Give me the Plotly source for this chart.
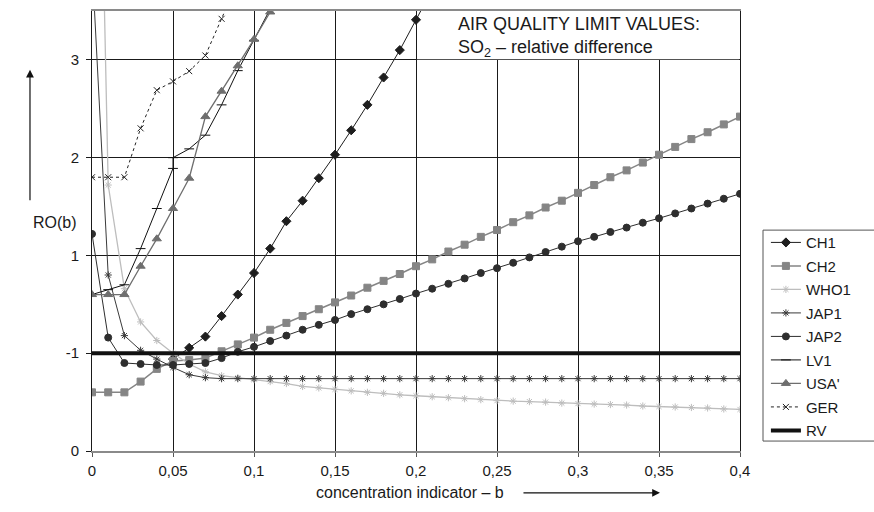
import plotly.graph_objects as go

# ---------------- data ----------------
x_all = [0.00, 0.01, 0.02, 0.03, 0.04, 0.05, 0.06, 0.07, 0.08, 0.09,
         0.10, 0.11, 0.12, 0.13, 0.14, 0.15, 0.16, 0.17, 0.18, 0.19,
         0.20, 0.21, 0.22, 0.23, 0.24, 0.25, 0.26, 0.27, 0.28, 0.29,
         0.30, 0.31, 0.32, 0.33, 0.34, 0.35, 0.36, 0.37, 0.38, 0.39, 0.40]

ch1_x = [0.05, 0.06, 0.07, 0.08, 0.09, 0.10, 0.11, 0.12, 0.13, 0.14,
         0.15, 0.16, 0.17, 0.18, 0.19, 0.20, 0.21]
ch1_y = [-0.06, 0.055, 0.17, 0.38, 0.60, 0.82, 1.07, 1.35, 1.56, 1.79,
         2.03, 2.28, 2.54, 2.82, 3.10, 3.41, 3.72]

ch2_y = [-0.40, -0.40, -0.40, -0.29, -0.16, -0.08, -0.07, -0.05, 0.02, 0.09,
         0.16, 0.24, 0.31, 0.38, 0.45, 0.52, 0.59, 0.67, 0.74, 0.81,
         0.89, 0.96, 1.04, 1.11, 1.19, 1.26, 1.34, 1.41, 1.49, 1.56,
         1.64, 1.72, 1.80, 1.87, 1.95, 2.03, 2.11, 2.19, 2.26, 2.34, 2.42]

who1_y = [9.5, 1.72, 0.66, 0.32, 0.13, 0.0, -0.11, -0.19, -0.23, -0.25,
          -0.27, -0.29, -0.31, -0.34, -0.355, -0.37, -0.385, -0.40, -0.41, -0.425,
          -0.435, -0.445, -0.455, -0.465, -0.475, -0.485, -0.49, -0.495, -0.50, -0.51,
          -0.515, -0.52, -0.525, -0.53, -0.54, -0.545, -0.55, -0.555, -0.56, -0.57, -0.575]

jap1_y = [4.0, 0.80, 0.18, 0.03, -0.06, -0.145, -0.22, -0.25, -0.26, -0.26,
          -0.26, -0.26, -0.26, -0.26, -0.26, -0.26, -0.26, -0.26, -0.26, -0.26,
          -0.26, -0.26, -0.26, -0.26, -0.26, -0.26, -0.26, -0.26, -0.26, -0.26,
          -0.26, -0.26, -0.26, -0.26, -0.26, -0.26, -0.26, -0.26, -0.26, -0.26, -0.26]

jap2_y = [1.22, 0.16, -0.10, -0.11, -0.12, -0.12, -0.11, -0.10, -0.05, 0.015,
          0.065, 0.125, 0.18, 0.24, 0.29, 0.34, 0.40, 0.45, 0.50, 0.555,
          0.61, 0.66, 0.71, 0.765, 0.82, 0.87, 0.925, 0.98, 1.035, 1.09,
          1.145, 1.19, 1.24, 1.285, 1.335, 1.38, 1.43, 1.48, 1.53, 1.58, 1.63]

lv1_x = [0.00, 0.01, 0.02, 0.03, 0.04, 0.05, 0.05, 0.06, 0.07, 0.08, 0.09, 0.10, 0.11]
lv1_y = [0.60, 0.65, 0.70, 1.07, 1.48, 1.89, 2.00, 2.09, 2.23, 2.54, 2.89, 3.20, 3.52]

usa_x = [0.00, 0.01, 0.02, 0.03, 0.04, 0.05, 0.06, 0.07, 0.08, 0.09, 0.10, 0.11]
usa_y = [0.60, 0.60, 0.60, 0.89, 1.17, 1.48, 1.79, 2.42, 2.68, 2.94, 3.21, 3.49]

ger_x = [0.00, 0.01, 0.02, 0.03, 0.04, 0.05, 0.06, 0.07, 0.08, 0.09]
ger_y = [1.80, 1.80, 1.80, 2.30, 2.69, 2.78, 2.885, 3.045, 3.42, 3.80]

rv_x = [0.0, 0.4]
rv_y = [0.0, 0.0]

x_ticks = [0, 0.05, 0.1, 0.15, 0.2, 0.25, 0.3, 0.35, 0.4]
x_ticktext = ["0", "0,05", "0,1", "0,15", "0,2", "0,25", "0,3", "0,35", "0,4"]
y_ticks = [-1, 0, 1, 2, 3]
y_ticktext = ["0", "-1", "1", "2", "3"]

FONT = "Liberation Sans, Arial, sans-serif"

fig = go.Figure()

def add(name, x, y, color, symbol, size=6, width=1, dash="solid", mline=1):
    fig.add_trace(go.Scatter(
        x=x, y=y, name=name, mode="lines+markers", legendgroup=name,
        line=dict(color=color, width=width, dash=dash),
        marker=dict(symbol=symbol, size=size, color=color,
                    line=dict(color=color, width=mline)),
    ))

add("CH1", ch1_x, ch1_y, "#1e1e1e", "diamond", size=7)
add("CH2", x_all, ch2_y, "#858585", "square", size=7, width=1.5)
add("WHO1", x_all, who1_y, "#bdbdbd", "asterisk-open", size=6, width=1.3)
add("JAP1", x_all, jap1_y, "#3a3a3a", "asterisk-open", size=6)
add("JAP2", x_all, jap2_y, "#2e2e2e", "circle", size=7)
add("LV1", lv1_x, lv1_y, "#111111", "line-ew-open", size=7)
add("USA'", usa_x, usa_y, "#6e6e6e", "triangle-up", size=8, width=1.3)
add("GER", ger_x, ger_y, "#222222", "x-thin-open", size=6, dash="dot")
fig.add_trace(go.Scatter(x=rv_x, y=rv_y, name="RV", mode="lines", legendgroup="RV",
                         line=dict(color="#111111", width=4)))

fig.update_layout(
    width=874, height=512,
    margin=dict(l=92, r=134, t=9, b=61),
    paper_bgcolor="white", plot_bgcolor="white",
    font=dict(family=FONT, size=15, color="#1a1a1a"),
    showlegend=True,
    legend=dict(x=1.04, y=0.511, xanchor="left", yanchor="top",
                borderwidth=0, bgcolor="rgba(0,0,0,0)",
                font=dict(size=15), tracegroupgap=1),
    xaxis=dict(range=[0, 0.4], tickvals=x_ticks, ticktext=x_ticktext,
               showgrid=True, gridcolor="#1a1a1a", gridwidth=1,
               showline=True, linecolor="#8a8a8a", linewidth=2, mirror=True,
               ticks="outside", ticklen=4, tickcolor="#555555",
               zeroline=False, ticklabelstandoff=1),
    yaxis=dict(range=[-1, 3.5], tickvals=y_ticks, ticktext=y_ticktext,
               showgrid=True, gridcolor="#1a1a1a", gridwidth=1,
               showline=True, linecolor="#1a1a1a", linewidth=1, mirror=True,
               ticks="outside", ticklen=5, tickcolor="#1a1a1a",
               zeroline=False, ticklabelstandoff=4),
)

# white box behind the title (hides grid lines)
fig.add_shape(type="rect", xref="x", yref="y", x0=0.2007, x1=0.3995, y0=3.006, y1=3.5,
              fillcolor="white", line=dict(width=0), layer="between")

# legend frame (open to the right edge, as in the reference)
fig.add_shape(type="rect", xref="paper", yref="paper", x0=1.0355, x1=1.35,
              y0=0.0226, y1=0.502, line=dict(color="#555555", width=1),
              fillcolor="rgba(0,0,0,0)", layer="above")

fig.add_annotation(xref="paper", yref="paper", x=0.5617, y=0.997,
                   xanchor="left", yanchor="top", align="left", showarrow=False,
                   text="AIR QUALITY LIMIT VALUES:<br>SO<sub>2</sub> – relative difference",
                   font=dict(size=18))

fig.add_annotation(xref="paper", yref="paper", x=-0.0941, y=0.520, yanchor="middle",
                   text="RO(b)", showarrow=False, font=dict(size=16))
fig.add_annotation(xref="paper", yref="paper", x=-0.0957, y=0.8665, text="",
                   showarrow=True, ax=0, ay=132, arrowhead=2, arrowsize=1.3,
                   arrowwidth=1.2, arrowcolor="#111111")

fig.add_annotation(xref="paper", yref="paper", x=0.4907, y=-0.095, yanchor="middle",
                   text="concentration indicator – b", showarrow=False,
                   font=dict(size=16))
fig.add_annotation(xref="paper", yref="paper", x=0.8765, y=-0.095, text="",
                   showarrow=True, ax=-138, ay=0, arrowhead=2, arrowsize=1.3,
                   arrowwidth=1.2, arrowcolor="#111111")

fig.write_html("out.html")
